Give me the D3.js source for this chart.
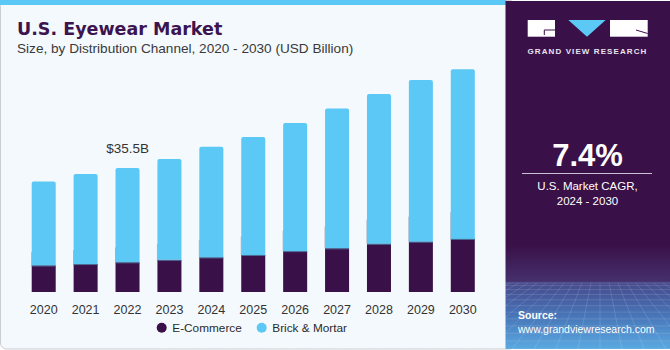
<!DOCTYPE html>
<html lang="en">
<head>
  <meta charset="UTF-8">
  <title>U.S. Eyewear Market</title>
  <script src="https://cdn.jsdelivr.net/npm/d3@7"></script>
  <style>
    html, body { margin: 0; padding: 0; background: #fff; }
    svg { display: block; }
  </style>
</head>
<body>
<script>
  // values (USD billion)
  const years = ['2020', '2021', '2022', '2023', '2024', '2025', '2026', '2027', '2028', '2029', '2030']
  const eCommerce = [7.6, 8.0, 8.5, 9.2, 9.9, 10.6, 11.7, 12.5, 13.8, 14.4, 15.2]
  const brickMortar = [24.0, 25.8, 27.0, 28.9, 31.7, 33.8, 36.7, 40.0, 42.9, 46.3, 48.6]
  const seriesNames = ['E-Commerce', 'Brick & Mortar']
  const seriesColors = ['#3a1048', '#5bc8f5']
  const calloutYear = '2022'
  const calloutText = '$35.5B'

  const width = 670
  const height = 350
  const font = "'Liberation Sans', Arial, sans-serif"

  const rows = years.map((y, i) => ({year: y, e: eCommerce[i], b: brickMortar[i]}))
  const stack = d3.stack().keys(['e', 'b'])(rows)

  const x = d3.scaleBand()
    .domain(years)
    .range([31.7, 474.8])
    .paddingInner(0.427)
    .paddingOuter(0)

  const y = d3.scaleLinear()
    .domain([0, 70])
    .range([292, 292 - 70 * 124 / 35.5])

  const svg = d3.select('body').append('svg')
    .attr('width', width)
    .attr('height', height)
    .attr('viewBox', [0, 0, width, height])

  const defs = svg.append('defs')
  const grad = defs.append('linearGradient')
    .attr('id', 'panelGrad')
    .attr('x1', 0).attr('y1', 0).attr('x2', 0).attr('y2', 1)
  grad.selectAll('stop')
    .data([
      [0, '#3a1048'], [0.7, '#3a1048'], [0.805, '#45306c'],
      [0.81, '#464a8c'], [0.9, '#4773b6'], [1, '#5aa9e2']
    ])
    .join('stop')
    .attr('offset', d => d[0])
    .attr('stop-color', d => d[1])

  // left panel
  svg.append('rect')
    .attr('x', 0.5).attr('y', 0.5)
    .attr('width', 515).attr('height', 348.5)
    .attr('rx', 6)
    .attr('fill', '#f4f9fd')
    .attr('stroke', '#c9ccd1')
  svg.append('rect')
    .attr('x', 0).attr('y', 0)
    .attr('width', 506).attr('height', 5)
    .attr('fill', '#5bc8f5')

  // right panel
  svg.append('rect')
    .attr('x', 505.5).attr('y', 1)
    .attr('width', 164.5).attr('height', 348)
    .attr('fill', 'url(#panelGrad)')

  // perspective grid in the source box
  const grid = svg.append('g')
    .attr('stroke', '#ffffff')
    .attr('stroke-opacity', 0.16)
    .attr('stroke-width', 0.8)
  const gTop = 283, gBot = 349
  const hLines = d3.range(0, 12).map(i => gTop + (gBot - gTop) * Math.pow(i / 11, 1.35))
  grid.selectAll('line.h')
    .data(hLines)
    .join('line')
    .attr('x1', 505.5).attr('x2', 670)
    .attr('y1', d => d).attr('y2', d => d)
  grid.selectAll('line.v')
    .data(d3.range(-20, 21))
    .join('line')
    .attr('x1', d => 600 + d * 9).attr('y1', gTop)
    .attr('x2', d => 600 + d * 22).attr('y2', gBot)

  // logo
  const logo = svg.append('g')
  logo.append('rect')
    .attr('x', 527.7).attr('y', 20).attr('width', 27.3).attr('height', 16.7)
    .attr('fill', '#ffffff')
  logo.append('path')
    .attr('d', 'M555,30H544.3V35')
    .attr('fill', 'none').attr('stroke', '#3a1048').attr('stroke-width', 1)
  logo.append('path')
    .attr('d', 'M568.3,20H605.7L587,36.7Z')
    .attr('fill', '#5bc8f5')
  logo.append('rect')
    .attr('x', 610).attr('y', 20).attr('width', 37.7).attr('height', 16.7)
    .attr('fill', '#ffffff')
  logo.append('path')
    .attr('d', 'M636,30L647.7,33.5')
    .attr('fill', 'none').attr('stroke', '#3a1048').attr('stroke-width', 1)
  logo.append('text')
    .attr('x', 587.5).attr('y', 53.5)
    .attr('text-anchor', 'middle')
    .attr('font-family', font)
    .attr('font-weight', 'bold')
    .attr('font-size', 8)
    .attr('letter-spacing', 1.1)
    .attr('fill', '#e8e4ee')
    .text('GRAND VIEW RESEARCH')

  // CAGR block
  svg.append('text')
    .attr('x', 587.5).attr('y', 166)
    .attr('text-anchor', 'middle')
    .attr('font-family', font)
    .attr('font-weight', 'bold')
    .attr('font-size', 31)
    .attr('fill', '#ffffff')
    .text('7.4%')
  svg.append('line')
    .attr('x1', 522).attr('x2', 652)
    .attr('y1', 173.5).attr('y2', 173.5)
    .attr('stroke', '#c9c1d4').attr('stroke-width', 1)
  svg.append('text')
    .attr('x', 587.5).attr('y', 189.5)
    .attr('text-anchor', 'middle')
    .attr('font-family', font)
    .attr('font-size', 11.5)
    .attr('fill', '#ffffff')
    .text('U.S. Market CAGR,')
  svg.append('text')
    .attr('x', 587.5).attr('y', 204.5)
    .attr('text-anchor', 'middle')
    .attr('font-family', font)
    .attr('font-size', 11.5)
    .attr('fill', '#ffffff')
    .text('2024 - 2030')

  // source
  svg.append('text')
    .attr('x', 518).attr('y', 318.5)
    .attr('font-family', font)
    .attr('font-weight', 'bold')
    .attr('font-size', 10.5)
    .attr('fill', '#ffffff')
    .text('Source:')
  svg.append('text')
    .attr('x', 518).attr('y', 332.5)
    .attr('font-family', font)
    .attr('font-size', 10.5)
    .attr('fill', '#ffffff')
    .text('www.grandviewresearch.com')

  // titles
  svg.append('text')
    .attr('x', 17).attr('y', 35)
    .attr('font-family', "'DejaVu Sans', sans-serif")
    .attr('font-weight', 'bold')
    .attr('font-size', 17.5)
    .attr('fill', '#3b1450')
    .text('U.S. Eyewear Market')
  svg.append('text')
    .attr('x', 17).attr('y', 53.3)
    .attr('font-family', font)
    .attr('font-size', 13.6)
    .attr('fill', '#3a3a3a')
    .text('Size, by Distribution Channel, 2020 - 2030 (USD Billion)')

  // faint shadow strips at bar edges
  svg.append('g')
    .attr('fill', '#aab3c3')
    .selectAll('rect')
    .data(rows)
    .join('rect')
    .attr('x', d => x(d.year) - 0.5)
    .attr('width', 1)
    .attr('y', d => y(d.e * 1.5))
    .attr('height', d => y(d.e) - y(d.e * 1.5))

  // bars
  const r = 2
  const barPath = (x0, w, yTop, yBot, round) => {
    if (!round) return `M${x0},${yBot}V${yTop}H${x0 + w}V${yBot}Z`
    return `M${x0},${yBot}V${yTop + r}Q${x0},${yTop} ${x0 + r},${yTop}H${x0 + w - r}Q${x0 + w},${yTop} ${x0 + w},${yTop + r}V${yBot}Z`
  }

  svg.append('g')
    .selectAll('g')
    .data(stack)
    .join('g')
    .attr('fill', (d, i) => seriesColors[i])
    .selectAll('path')
    .data((d, i) => d.map(s => ({s, top: i === stack.length - 1})))
    .join('path')
    .attr('d', d => barPath(x(d.s.data.year), x.bandwidth(), y(d.s[1]), y(d.s[0]), d.top))

  // thin seam between segments
  svg.append('g')
    .attr('stroke', '#4d6f98')
    .attr('stroke-width', 1)
    .selectAll('line')
    .data(rows)
    .join('line')
    .attr('x1', d => x(d.year))
    .attr('x2', d => x(d.year) + x.bandwidth())
    .attr('y1', d => y(d.e) + 0.5)
    .attr('y2', d => y(d.e) + 0.5)

  // callout
  const callRow = rows.find(d => d.year === calloutYear)
  svg.append('text')
    .attr('x', x(calloutYear) + x.bandwidth() / 2)
    .attr('y', y(callRow.e + callRow.b) - 14.7)
    .attr('text-anchor', 'middle')
    .attr('font-family', font)
    .attr('font-size', 13.5)
    .attr('fill', '#333333')
    .text(calloutText)

  // x axis labels
  const xAxis = svg.append('g')
    .attr('transform', 'translate(0,292)')
    .call(d3.axisBottom(x).tickSize(0).tickPadding(13.5))
  xAxis.select('.domain').remove()
  xAxis.selectAll('text')
    .attr('font-family', font)
    .attr('font-size', 12.5)
    .attr('fill', '#333333')

  // legend
  const legendX = [161.7, 261.7]
  const legend = svg.append('g')
    .selectAll('g')
    .data(seriesNames)
    .join('g')
    .attr('transform', (d, i) => `translate(${legendX[i]},327.7)`)
  legend.append('circle')
    .attr('r', 5)
    .attr('fill', (d, i) => seriesColors[i])
  legend.append('text')
    .attr('x', 10.6)
    .attr('dy', '0.35em')
    .attr('font-family', font)
    .attr('font-size', 11.8)
    .attr('fill', '#2a2a2a')
    .text(d => d)
</script>
</body>
</html>
